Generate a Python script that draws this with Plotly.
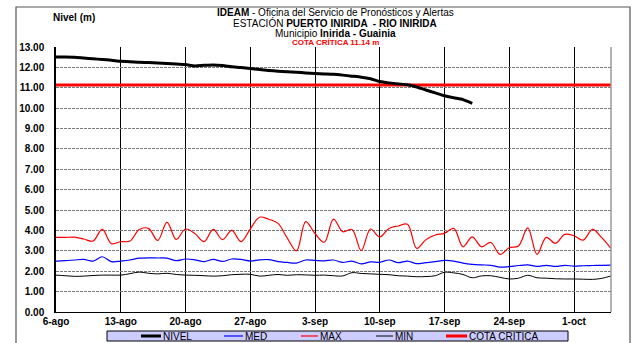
import pandas as pd
import plotly.graph_objects as go

# Daily series, starting 6 August
START = "2013-08-06"

NIVEL = [12.51, 12.51, 12.50, 12.46, 12.42, 12.39, 12.35, 12.30, 12.28, 12.25,
         12.24, 12.22, 12.19, 12.16, 12.14, 12.07, 12.10, 12.12, 12.09, 12.03,
         11.99, 11.95, 11.90, 11.85, 11.81, 11.78, 11.76, 11.73, 11.70, 11.68,
         11.66, 11.62, 11.57, 11.52, 11.44, 11.31, 11.24, 11.19, 11.15, 11.04,
         10.89, 10.75, 10.61, 10.51, 10.42, 10.24]

MED = [2.50, 2.52, 2.55, 2.58, 2.50, 2.71, 2.47, 2.50, 2.55, 2.64,
       2.66, 2.65, 2.64, 2.52, 2.60, 2.56, 2.47, 2.58, 2.48, 2.60,
       2.58, 2.50, 2.56, 2.57, 2.47, 2.43, 2.40, 2.55, 2.53, 2.51,
       2.55, 2.43, 2.50, 2.36, 2.46, 2.44, 2.55, 2.42, 2.50, 2.37,
       2.42, 2.47, 2.53, 2.50, 2.40, 2.34, 2.31, 2.29, 2.20, 2.23,
       2.28, 2.31, 2.24, 2.29, 2.24, 2.29, 2.25, 2.27, 2.28, 2.29, 2.30]

MAX = [3.66, 3.66, 3.67, 3.58, 3.48, 4.05, 3.35, 3.45, 3.48, 4.05,
       4.10, 3.51, 4.40, 3.56, 4.07, 3.85, 3.45, 4.05, 3.55, 4.00,
       3.45, 4.07, 4.65, 4.55, 4.35, 3.63, 3.00, 4.43, 3.85, 3.42,
       4.56, 3.94, 4.05, 3.01, 4.07, 3.68, 4.10, 4.22, 4.30, 3.12,
       3.55, 3.78, 3.86, 4.10, 3.20, 3.69, 3.20, 3.41, 2.83, 3.15,
       3.24, 4.13, 2.83, 3.66, 3.37, 3.81, 3.74, 3.53, 4.05, 3.65, 3.12]

MIN = [1.81, 1.78, 1.75, 1.76, 1.79, 1.81, 1.81, 1.81, 1.88, 1.96,
       1.90, 1.87, 1.90, 1.84, 1.81, 1.80, 1.78, 1.76, 1.78, 1.83,
       1.85, 1.85, 1.76, 1.80, 1.84, 1.80, 1.83, 1.82, 1.80, 1.81,
       1.78, 1.77, 1.93, 1.89, 1.87, 1.85, 1.83, 1.78, 1.76, 1.73,
       1.74, 1.78, 1.95, 1.92, 1.84, 1.68, 1.77, 1.78, 1.70, 1.62,
       1.66, 1.80, 1.68, 1.66, 1.63, 1.62, 1.62, 1.61, 1.60, 1.65, 1.77]

COTA_CRITICA = 11.14

TICK_DATES = ["2013-08-06", "2013-08-13", "2013-08-20", "2013-08-27", "2013-09-03",
              "2013-09-10", "2013-09-17", "2013-09-24", "2013-10-01"]
TICK_LABELS = ["6-ago", "13-ago", "20-ago", "27-ago", "3-sep",
               "10-sep", "17-sep", "24-sep", "1-oct"]
Y_TICKS = list(range(0, 14))

dates_full = pd.date_range(START, periods=len(MAX))
dates_nivel = pd.date_range(START, periods=len(NIVEL))

FONT = "Liberation Sans, Arial, sans-serif"
W, H = 632, 343
L, R, T, B = 56, 21, 47, 31
PW, PH = W - L - R, H - T - B


def px_x(x):
    return (x - L) / PW


def px_y(y):
    return (H - B - y) / PH


fig = go.Figure()

series = [
    ("MED", dates_full, MED, "#0000FF", 1.2),
    ("MAX", dates_full, MAX, "#FF0000", 1.2),
    ("MIN", dates_full, MIN, "#000000", 1.0),
]
for name, xs, ys, color, width in series:
    fig.add_trace(go.Scatter(x=xs, y=ys, name=name, mode="lines",
                             line=dict(color=color, width=width, shape="spline", smoothing=1.0)))

fig.add_trace(go.Scatter(x=[dates_full[0], dates_full[-1]], y=[COTA_CRITICA, COTA_CRITICA],
                         name="COTA CRITICA", mode="lines",
                         line=dict(color="#FF0000", width=3)))
fig.add_trace(go.Scatter(x=dates_nivel, y=NIVEL, name="NIVEL", mode="lines",
                         line=dict(color="#000000", width=3, shape="spline", smoothing=0.6)))

fig.update_layout(
    width=W, height=H,
    margin=dict(l=L, r=R, t=T, b=B, pad=0),
    paper_bgcolor="white", plot_bgcolor="white",
    showlegend=False,
    font=dict(family=FONT, size=10, color="#000000"),
)

fig.update_xaxes(
    range=[dates_full[0], dates_full[-1]],
    tickvals=TICK_DATES, ticktext=TICK_LABELS,
    tickfont=dict(family=FONT, size=10, weight="bold"),
    showgrid=True, gridcolor="#000000", gridwidth=1,
    showline=True, linecolor="#000000", linewidth=1,
    ticks="", zeroline=False,
)
fig.update_yaxes(
    range=[0, 13], tickvals=Y_TICKS, tickformat=".2f",
    tickfont=dict(family=FONT, size=10, weight="bold"),
    showgrid=True, gridcolor="#7a7a7a", gridwidth=1, griddash="3px,1px",
    showline=True, linecolor="#000000", linewidth=1.5,
    ticks="", zeroline=False, ticklabelstandoff=8,
)

shapes = [
    # outer frame
    dict(type="rect", xref="paper", yref="paper",
         x0=px_x(16), x1=px_x(630), y0=px_y(350), y1=px_y(7),
         line=dict(color="#555555", width=1.2), fillcolor="rgba(0,0,0,0)", layer="below"),
    # right edge of the plot area
    dict(type="line", xref="paper", yref="paper", x0=1, x1=1, y0=0, y1=1,
         line=dict(color="#9a9a9a", width=1.5)),
]

# legend strip along the bottom
shapes.append(dict(type="rect", xref="paper", yref="paper",
                   x0=px_x(107), x1=px_x(568), y0=px_y(341), y1=px_y(331),
                   line=dict(color="#000000", width=1), fillcolor="#CCCCFF"))
legend_entries = [
    ("NIVEL", "#000000", 3, 141, 161),
    ("MED", "#0000FF", 1.2, 224, 243),
    ("MAX", "#FF0000", 1.2, 301, 318),
    ("MIN", "#000000", 1.0, 376, 393),
    ("COTA CRITICA", "#FF0000", 3, 446, 467),
]
annotations = []
ly = px_y(336)
for label, color, width, x0, x1 in legend_entries:
    shapes.append(dict(type="line", xref="paper", yref="paper",
                       x0=px_x(x0), x1=px_x(x1), y0=ly, y1=ly,
                       line=dict(color=color, width=width)))
    annotations.append(dict(text=label, xref="paper", yref="paper", x=px_x(x1), y=ly,
                            xanchor="left", yanchor="middle", showarrow=False,
                            font=dict(family=FONT, size=10, color="#000000")))

title_lines = [
    ("<b>IDEAM</b> - Oficina del Servicio de Pronósticos y Alertas", 12, 10, "#000000"),
    ("ESTACIÓN <b>PUERTO INIRIDA  - RIO INIRIDA</b>", 23, 10, "#000000"),
    ("Municipio <b>Inirida - Guainia</b>", 33, 10, "#000000"),
    ("<b>COTA CRÍTICA 11.14 m</b>", 42, 8, "#FF0000"),
]
for text, y, size, color in title_lines:
    annotations.append(dict(text=text, xref="paper", yref="paper", x=px_x(335), y=px_y(y),
                            xanchor="center", yanchor="middle", showarrow=False,
                            font=dict(family=FONT, size=size, color=color)))
annotations.append(dict(text="<b>Nivel (m)</b>", xref="paper", yref="paper",
                        x=px_x(74), y=px_y(17), xanchor="center", yanchor="middle",
                        showarrow=False, font=dict(family=FONT, size=10)))

fig.update_layout(shapes=shapes, annotations=annotations)

fig.write_html("out.html")
